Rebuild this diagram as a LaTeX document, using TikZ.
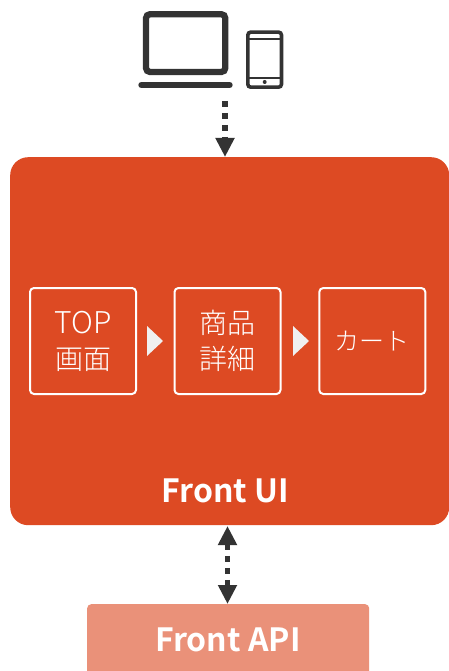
\documentclass[tikz,border=0pt]{standalone}
\usepackage{fontspec}
\setmainfont{Noto Sans CJK JP Light}[BoldFont={Noto Sans CJK JP Bold}]
\usetikzlibrary{arrows.meta}
\definecolor{uiorange}{HTML}{DD4A23}
\definecolor{apiorange}{HTML}{EA9179}
\definecolor{icondark}{HTML}{333333}
\definecolor{tri}{HTML}{F0F0F0}
\tikzset{
  x=1pt,y=-1pt,
  pagebox/.style={draw=white,line width=2pt,rounded corners=4pt,minimum width=106pt,minimum height=106pt,inner sep=0pt,text=white,font=\fontsize{28}{36}\selectfont,align=center,anchor=center},
  bigbox/.style={rounded corners=18pt,fill=uiorange,minimum width=439pt,minimum height=368pt,inner sep=0pt,anchor=north west},
  apibox/.style={rounded corners=4pt,fill=apiorange,minimum width=282pt,minimum height=80pt,inner sep=0pt,anchor=north west},
  boldlabel/.style={text=white,font=\bfseries\fontsize{32}{36}\selectfont,inner sep=0pt},
  link/.style={draw=icondark,line width=5.5pt,dash pattern=on 6pt off 6pt},
  headend/.style={-{Triangle[length=19pt,width=18pt,fill=icondark]}},
  headboth/.style={{Triangle[length=19pt,width=18pt,fill=icondark]}-{Triangle[length=19pt,width=18pt,fill=icondark]}},
  icon/.style={draw=icondark,fill=none},
  steptri/.style={fill=tri,draw=none}
}
\begin{document}
\begin{tikzpicture}
\useasboundingbox (0,0) rectangle (449,671);
% icons
\draw[icon,line width=6.3pt,rounded corners=4pt] (146,14.2) rectangle (225.3,72);
\draw[icon,line width=6.6pt,line cap=round] (141.6,85) -- (229.4,85);
\draw[icon,line width=3.6pt,rounded corners=3pt] (247.8,32.1) rectangle (281.5,87.2);
\draw[icon,line width=2.2pt] (247.8,39) -- (281.5,39);
\draw[icon,line width=2.2pt] (247.8,77.8) -- (281.5,77.8);
\fill[icondark] (264.7,82) circle (2pt);
% boxes
\node[bigbox] (ui) at (10,157) {};
\node[apibox] (api) at (87,604) {};
\node[pagebox] (top) at (83,341) {{\fontsize{30}{36}\selectfont TOP}\\画面};
\node[pagebox] (detail) at (227.5,341) {商品\\詳細};
\node[pagebox,font=\fontsize{25}{36}\selectfont] (cart) at (372.3,341) {カート};
\node[boldlabel] (uilabel) at (225.5,491) {Front UI};
\node[boldlabel] (apilabel) at (228,640) {Front API};
% step triangles
\fill[steptri] (147,326) -- (163,341) -- (147,356) -- cycle;
\fill[steptri] (293,326) -- (309,341) -- (293,356) -- cycle;
% connectors
\coordinate (devices) at (225,101);
\draw[link,headend] (devices) -- (devices |- ui.north);
\coordinate (uibottom) at (227.5,526);
\coordinate (apitop) at (227.5,604);
\draw[link,headboth] (uibottom) -- (apitop);
\end{tikzpicture}
\end{document}
